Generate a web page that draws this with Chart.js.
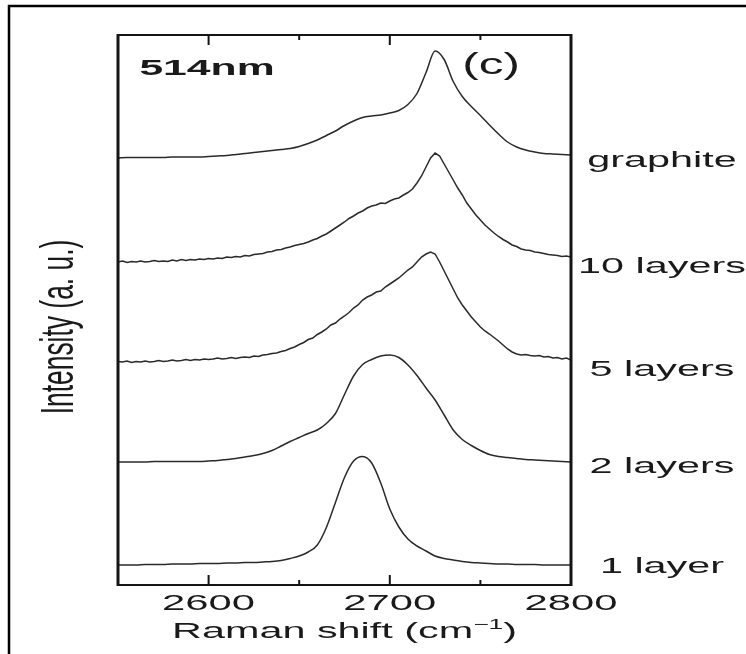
<!DOCTYPE html>
<html>
<head>
<meta charset="utf-8">
<script src="https://cdn.jsdelivr.net/npm/chart.js@4.4.1/dist/chart.umd.min.js"></script>
<style>
  html, body { margin: 0; padding: 0; background: #ffffff; }
  #wrap { width: 746px; height: 654px; position: relative; }
</style>
</head>
<body>
<div id="wrap"><canvas id="c" width="746" height="654"></canvas></div>
<script>
// ---- Data ----
const ramanShiftCoarse = [2550,2555,2560,2565,2570,2575,2580,2585,2590,2595,2600,2605,2610,2615,2620,2625,2630,2635,2640,2645,2650,2655,2660,2665,2670,2675,2680,2685,2690,2695,2700,2705,2710,2715,2720,2725,2730,2735,2740,2745,2750,2755,2760,2765,2770,2775,2780,2785,2790,2795,2800];
const ramanShiftFine = [2550,2552.5,2555,2557.5,2560,2562.5,2565,2567.5,2570,2572.5,2575,2577.5,2580,2582.5,2585,2587.5,2590,2592.5,2595,2597.5,2600,2602.5,2605,2607.5,2610,2612.5,2615,2617.5,2620,2622.5,2625,2627.5,2630,2632.5,2635,2637.5,2640,2642.5,2645,2647.5,2650,2652.5,2655,2657.5,2660,2662.5,2665,2667.5,2670,2672.5,2675,2677.5,2680,2682.5,2685,2687.5,2690,2692.5,2695,2697.5,2700,2702.5,2705,2707.5,2710,2712.5,2715,2717.5,2720,2722.5,2725,2727.5,2730,2732.5,2735,2737.5,2740,2742.5,2745,2747.5,2750,2752.5,2755,2757.5,2760,2762.5,2765,2767.5,2770,2772.5,2775,2777.5,2780,2782.5,2785,2787.5,2790,2792.5,2795,2797.5,2800];

const sampleLabels = ['1 layer', '2 layers', '5 layers', '10 layers', 'graphite'];
const verticalOffsets = [0.4, 2.45, 4.5, 6.5, 8.55];

const intensity1Layer = [0.00,0.00,0.00,0.01,0.01,0.01,0.02,0.02,0.02,0.03,0.03,0.03,0.04,0.04,0.05,0.05,0.06,0.07,0.09,0.13,0.18,0.26,0.40,0.75,1.25,1.75,2.08,2.17,2.04,1.64,1.12,0.76,0.52,0.38,0.28,0.18,0.13,0.10,0.07,0.05,0.04,0.03,0.02,0.02,0.01,0.01,0.01,0.00,0.00,0.00,0.00];

const intensity2Layers = [0.01,0.01,0.01,0.01,0.02,0.02,0.02,0.02,0.02,0.02,0.03,0.04,0.06,0.08,0.11,0.14,0.18,0.24,0.33,0.42,0.50,0.58,0.65,0.78,0.98,1.36,1.73,1.96,2.06,2.13,2.15,2.10,1.95,1.74,1.49,1.25,0.95,0.65,0.46,0.34,0.24,0.16,0.12,0.10,0.08,0.06,0.05,0.04,0.03,0.02,0.01];

const intensity5Layers = [-0.03,-0.04,-0.02,-0.05,-0.03,-0.04,-0.02,-0.04,-0.03,-0.01,-0.03,-0.02,0.00,-0.02,-0.01,0.01,-0.01,0.01,0.00,0.02,0.01,0.02,0.04,0.02,0.03,0.05,0.03,0.05,0.06,0.05,0.08,0.07,0.10,0.11,0.13,0.14,0.17,0.19,0.23,0.26,0.31,0.35,0.41,0.44,0.51,0.56,0.62,0.70,0.74,0.82,0.88,0.95,1.04,1.10,1.20,1.26,1.30,1.36,1.38,1.46,1.52,1.58,1.64,1.72,1.80,1.86,1.96,2.06,2.12,2.16,2.12,1.96,1.78,1.60,1.42,1.24,1.10,0.98,0.86,0.76,0.66,0.58,0.52,0.45,0.38,0.30,0.22,0.16,0.12,0.10,0.11,0.09,0.08,0.09,0.06,0.07,0.04,0.05,0.02,0.04,0.00];

const intensity10Layers = [-0.04,-0.02,-0.05,-0.03,-0.04,-0.02,-0.04,-0.03,-0.01,-0.03,-0.02,-0.03,0.00,-0.02,0.01,-0.01,0.01,0.00,0.02,0.01,0.03,0.02,0.04,0.03,0.06,0.05,0.07,0.06,0.09,0.08,0.11,0.12,0.13,0.16,0.17,0.20,0.21,0.24,0.26,0.29,0.31,0.33,0.36,0.40,0.43,0.48,0.52,0.58,0.64,0.70,0.76,0.83,0.88,0.94,0.98,1.04,1.08,1.10,1.14,1.13,1.18,1.22,1.24,1.30,1.35,1.42,1.54,1.68,1.86,2.04,2.14,2.08,1.92,1.76,1.60,1.44,1.30,1.14,1.02,0.90,0.80,0.70,0.62,0.54,0.47,0.41,0.36,0.30,0.27,0.22,0.20,0.19,0.16,0.15,0.13,0.11,0.10,0.09,0.07,0.08,0.06];

const intensityGraphite = [-0.01,0.00,0.00,0.00,0.00,0.00,0.01,0.01,0.01,0.01,0.02,0.03,0.04,0.06,0.08,0.10,0.12,0.14,0.16,0.18,0.22,0.28,0.35,0.44,0.53,0.64,0.73,0.80,0.83,0.85,0.89,0.94,1.06,1.28,1.70,2.13,1.96,1.52,1.22,1.02,0.84,0.65,0.47,0.31,0.21,0.15,0.11,0.08,0.07,0.06,0.05];

const xMajorTicks = [2600, 2700, 2800];
const xMinorTicks = [2650, 2750];
const xTickLabels = ['2600', '2700', '2800'];

// ---- Build datasets ----
function series(xs, ys, off) { return ys.map((v, i) => ({ x: xs[i], y: v + off })); }
const seriesDefs = [
  { xs: ramanShiftCoarse, ys: intensity1Layer, smooth: true },
  { xs: ramanShiftCoarse, ys: intensity2Layers, smooth: true },
  { xs: ramanShiftFine, ys: intensity5Layers, smooth: false },
  { xs: ramanShiftFine, ys: intensity10Layers, smooth: false },
  { xs: ramanShiftCoarse, ys: intensityGraphite, smooth: true }
];
const datasets = seriesDefs.map((d, k) => ({
  label: sampleLabels[k],
  data: series(d.xs, d.ys, verticalOffsets[k]),
  borderColor: '#2a2a2a',
  borderWidth: 1.5,
  pointRadius: 0,
  fill: false,
  tension: d.smooth ? 0.4 : 0,
  cubicInterpolationMode: d.smooth ? 'monotone' : 'default'
}));

const TXT = '#1a1a1a';
function stretchedText(ctx, text, cx, cy, font, sx, sy) {
  ctx.save();
  ctx.translate(cx, cy);
  ctx.scale(sx, sy || 1);
  ctx.font = font;
  ctx.fillStyle = TXT;
  ctx.textAlign = 'center';
  ctx.textBaseline = 'middle';
  ctx.fillText(text, 0, 0);
  ctx.restore();
}

const framePlugin = {
  id: 'framePlugin',
  afterDraw(chart) {
    const ctx = chart.ctx;
    const a = chart.chartArea;
    const xs = chart.scales.x, ys = chart.scales.y;
    ctx.save();
    // outer figure frame (left + top edges)
    ctx.strokeStyle = '#000';
    ctx.lineWidth = 2.5;
    ctx.beginPath();
    ctx.moveTo(9, 654); ctx.lineTo(9, 6); ctx.lineTo(746, 6);
    ctx.stroke();
    // plot box
    ctx.strokeStyle = '#151515';
    ctx.lineWidth = 2;
    ctx.beginPath();
    ctx.moveTo(a.left, a.top); ctx.lineTo(a.right, a.top);
    ctx.moveTo(a.left, a.bottom); ctx.lineTo(a.right, a.bottom);
    ctx.stroke();
    ctx.lineWidth = 3;
    ctx.beginPath();
    ctx.moveTo(a.left, a.top - 1); ctx.lineTo(a.left, a.bottom + 1);
    ctx.moveTo(a.right, a.top - 1); ctx.lineTo(a.right, a.bottom + 1);
    ctx.stroke();
    // x ticks, inward on top and bottom
    ctx.lineWidth = 2;
    ctx.beginPath();
    xMajorTicks.forEach(t => {
      const p = xs.getPixelForValue(t);
      ctx.moveTo(p, a.bottom); ctx.lineTo(p, a.bottom - 10);
      ctx.moveTo(p, a.top); ctx.lineTo(p, a.top + 10);
    });
    xMinorTicks.forEach(t => {
      const p = xs.getPixelForValue(t);
      ctx.moveTo(p, a.bottom); ctx.lineTo(p, a.bottom - 5);
      ctx.moveTo(p, a.top); ctx.lineTo(p, a.top + 5);
    });
    ctx.stroke();
    ctx.restore();

    // tick labels
    xMajorTicks.forEach((t, i) => {
      stretchedText(ctx, xTickLabels[i], xs.getPixelForValue(t), a.bottom + 19, '22px "Liberation Sans", Arial, sans-serif', 1.9);
    });

    // x axis title with superscript
    ctx.save();
    const f = '22px "Liberation Sans", Arial, sans-serif';
    const fs = '14px "Liberation Sans", Arial, sans-serif';
    ctx.font = f;
    const p1 = 'Raman shift (cm', p3 = ')';
    const w1 = ctx.measureText(p1).width, w3 = ctx.measureText(p3).width;
    ctx.font = fs;
    const p2 = '\u22121';
    const w2 = ctx.measureText(p2).width;
    const sx = 1.88;
    const total = (w1 + w2 + w3) * sx;
    const cx = (a.left + a.right) / 2;
    let x0 = cx - total / 2;
    const ty = a.bottom + 53;
    ctx.fillStyle = TXT;
    ctx.textBaseline = 'alphabetic';
    ctx.textAlign = 'left';
    ctx.translate(x0, ty);
    ctx.scale(sx, 1);
    ctx.font = f; ctx.fillText(p1, 0, 0);
    ctx.font = fs; ctx.fillText(p2, w1, -9);
    ctx.font = f; ctx.fillText(p3, w1 + w2, 0);
    ctx.restore();

    // y axis title (rotated)
    ctx.save();
    ctx.translate(60, 327);
    ctx.rotate(-Math.PI / 2);
    ctx.scale(1.1, 1.92);
    ctx.font = '24px "Liberation Sans", Arial, sans-serif';
    ctx.fillStyle = TXT;
    ctx.textAlign = 'center';
    ctx.textBaseline = 'middle';
    ctx.fillText('Intensity (a. u.)', 0, 0);
    ctx.restore();

    // in-plot annotations
    stretchedText(ctx, '514nm', 207, 69, 'bold 22px "Liberation Sans", Arial, sans-serif', 1.94);
    stretchedText(ctx, '(c)', 491, 66, '30px "Liberation Sans", Arial, sans-serif', 1.65);

    // sample labels at right
    const nudges = [2, 4, 10, 7, 3];
    sampleLabels.forEach((lab, k) => {
      const y = ys.getPixelForValue(verticalOffsets[k]) + nudges[k];
      stretchedText(ctx, lab, 662, y, '22px "Liberation Sans", Arial, sans-serif', 1.88);
    });
  }
};

new Chart(document.getElementById('c'), {
  type: 'line',
  data: { datasets },
  options: {
    responsive: false,
    animation: false,
    events: [],
    layout: { padding: { left: 118, right: 175, top: 35, bottom: 69 } },
    plugins: { legend: { display: false }, tooltip: { enabled: false }, title: { display: false } },
    scales: {
      x: { type: 'linear', min: 2550, max: 2800, display: false },
      y: { type: 'linear', min: 0, max: 11, display: false }
    }
  },
  plugins: [framePlugin]
});
</script>
</body>
</html>
